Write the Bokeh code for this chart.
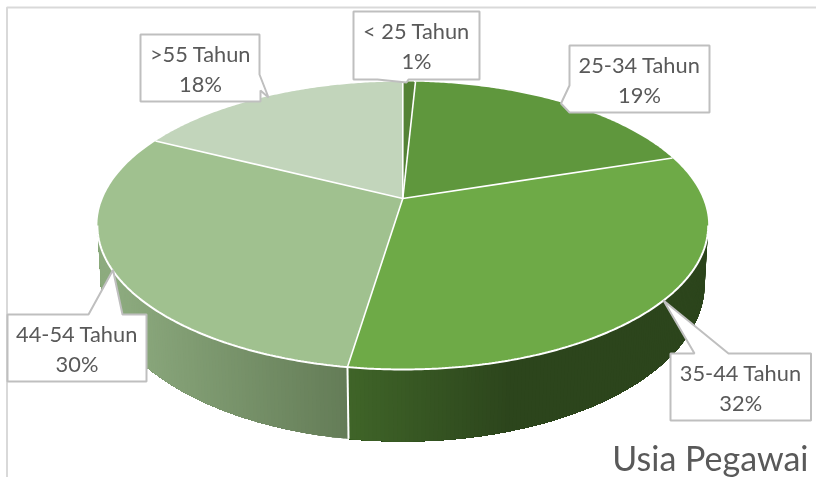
import numpy as np
from bokeh.plotting import figure
from bokeh.models import Range1d
from bokeh.core.properties import value
from bokeh.embed import file_html
from bokeh.resources import INLINE

categories = ["< 25 Tahun", "25-34 Tahun", "35-44 Tahun", "44-54 Tahun", ">55 Tahun"]
shares = [0.8, 19.2, 32.4, 30.0, 17.6]
title_text = "Usia Pegawai"

top_colors = ["#548235", "#5F973D", "#6EAA47", "#A0C18F", "#C2D5BB"]
wall_left = ["#3A5A25", "#3A5A25", "#3F6428", "#8DAB7F", "#90AE81"]
wall_right = ["#3A5A25", "#3A5A25", "#2C451C", "#647C57", "#90AE81"]
wall_span = [(402, 708), (402, 708), (350, 510), (115, 346), (97, 200)]

# label boxes: left, top, right, bottom, and the callout's three pointer vertices
boxes = [
    (353, 11, 479, 79, [(377, 79), (406, 82), (408, 79)]),
    (569, 45, 709, 112, [(569, 85), (560.5, 103), (569, 103)]),
    (670, 353, 810.5, 420, [(694, 353), (663, 300), (728, 353)]),
    (7, 314, 146, 381, [(88, 314), (112.5, 269.5), (122, 314)]),
    (140, 34, 260, 101, [(259, 74), (268, 97), (260, 90)]),
]

W, H = 816, 477
CX = 402.3
WALL_FROM, WALL_TO = np.radians(100.8), np.radians(259.2)


def project(theta, apex_y, a, b, k):
    X, Y = np.sin(theta), np.cos(theta)
    d = 1 + k * Y
    return CX + a * X / d, apex_y - b * Y / d


def top_rim(t):
    return project(t, 198.0, 300.0, 138.9, 0.1875)


def bottom_rim(t):
    return project(t, 254.5, 297.0, 152.9, 0.18)


def lerp_hex(c0, c1, f):
    a = [int(c0[i:i + 2], 16) for i in (1, 3, 5)]
    b = [int(c1[i:i + 2], 16) for i in (1, 3, 5)]
    return "#%02x%02x%02x" % tuple(round(p + (q - p) * f) for p, q in zip(a, b))


p = figure(width=W, height=H, x_range=Range1d(0, W), y_range=Range1d(H, 0),
           output_backend="svg", toolbar_location=None, min_border=0,
           outline_line_color=None, background_fill_color="white",
           styles={"position": "fixed", "left": "0px", "top": "0px"})
p.axis.visible = False
p.grid.visible = False

# chart frame (only the left and top edges fall inside the picture)
p.line([6.5, 6.5, W], [H, 7, 7], line_color="#D9D9D9", line_width=2)

edges = np.concatenate([[0], np.cumsum(shares)]) / sum(shares) * 2 * np.pi

# side wall: painter's strips, each reaching to the end of its slice, so no seams show
for i in range(len(shares)):
    t_start, t_end = max(edges[i], WALL_FROM), min(edges[i + 1], WALL_TO)
    if t_end <= t_start:
        continue
    ts = np.linspace(t_start, t_end, max(6, int((t_end - t_start) * 90)))
    for j in range(len(ts) - 1):
        seg = ts[j:]
        xt, yt = top_rim(seg)
        xb, yb = bottom_rim(seg[::-1])
        xm = (xt[0] + top_rim(ts[j + 1])[0]) / 2
        f = float(np.clip((xm - wall_span[i][0]) / (wall_span[i][1] - wall_span[i][0]), 0, 1))
        c = lerp_hex(wall_left[i], wall_right[i], f)
        p.patch(np.r_[xt, xb], np.r_[yt, yb], fill_color=c, line_color=None)

# white seam on the wall at the visible slice boundary
for e in edges:
    if WALL_FROM < e < WALL_TO:
        xa, ya = top_rim(e)
        xb, yb = bottom_rim(e)
        p.line([xa, xb], [ya, yb], line_color="white", line_width=2)

# top surface
for i in range(len(shares)):
    ts = np.linspace(edges[i], edges[i + 1], 120)
    rx, ry = top_rim(ts)
    p.patch(np.r_[CX, rx], np.r_[198.0, ry], fill_color=top_colors[i], line_color=None)

# white slice dividers and the front rim highlight
for e in edges[:-1]:
    xa, ya = top_rim(e)
    p.line([CX, xa], [198.0, ya], line_color="white", line_width=1.6)
rx, ry = top_rim(np.linspace(WALL_FROM, WALL_TO, 300))
p.line(rx, ry, line_color="white", line_width=2)

# callout labels
total = sum(shares)
for (l, t, r, b, ptr), name, share in zip(boxes, categories, shares):
    (p1, tip, p2) = ptr
    if p1[1] == t:      # pointer on top edge
        bx = [l, p1[0], tip[0], p2[0], r, r, l]
        by = [t, t, tip[1], t, t, b, b]
    elif p1[1] == b:    # pointer on bottom edge
        bx = [l, r, r, p2[0], tip[0], p1[0], l]
        by = [t, t, b, b, tip[1], b, b]
    elif p1[0] == l:    # pointer on left edge
        bx = [l, r, r, p2[0], tip[0], p1[0]]
        by = [t, t, b, b, tip[1], p1[1]]
    else:               # pointer on right edge
        bx = [l, p1[0], p1[0], tip[0], p2[0], p2[0], l]
        by = [t, t, p1[1], tip[1], p2[1], b, b]
    p.patch(bx, by, fill_color="white", line_color="#BFBFBF", line_width=2)
    cx = (l + r) / 2
    p.text([cx], [t + 19], text=[name], text_align="center", text_baseline="middle",
           text_font=value("Lato"), text_font_size="21.8px", text_color="#595959")
    p.text([cx], [t + 48.5], text=["%d%%" % round(share / total * 100)], text_align="center",
           text_baseline="middle", text_font=value("Lato"), text_font_size="21.8px",
           text_color="#595959")

p.text([808], [457], text=[title_text], text_align="right", text_baseline="middle",
       text_font=value("Lato"), text_font_size="34px", text_color="#595959")

open("out.html", "w").write(file_html(p, INLINE))
